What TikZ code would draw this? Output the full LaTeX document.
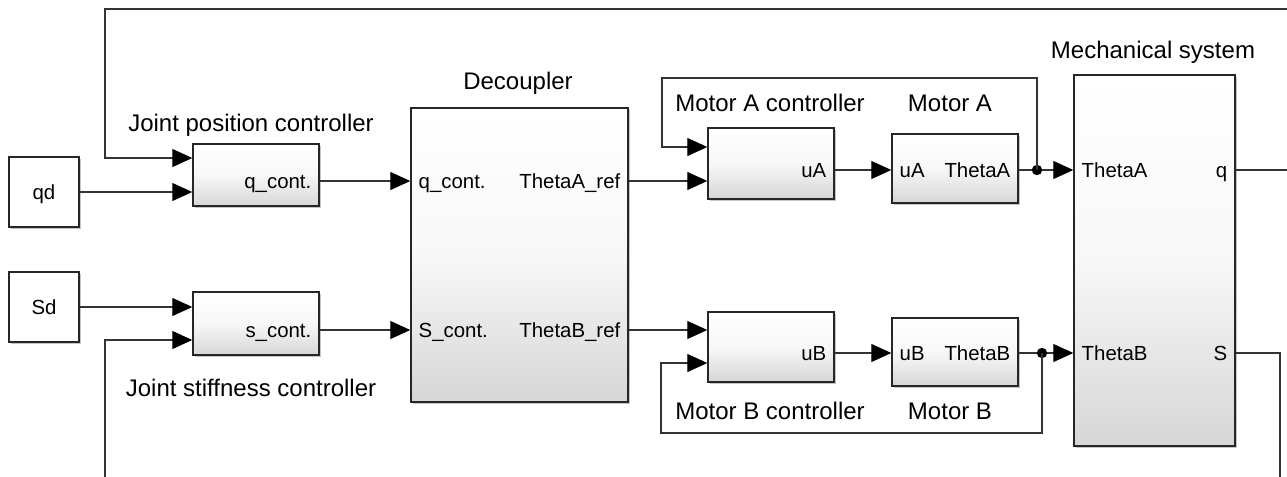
\documentclass[tikz,border=0pt]{standalone}
\usepackage{fontspec}
\setmainfont{Liberation Sans}
\usetikzlibrary{arrows.meta,shadows}

\begin{document}
\begin{tikzpicture}[x=0.5pt,y=-0.5pt,
  wire/.style={draw=black!80,line width=.55pt,
    -{Triangle[length=10pt,width=9pt,color=black]}},
  line/.style={draw=black!80,line width=.55pt},
  block/.style={draw=black!85,line width=.7pt,top color=white,bottom color=black!16,
    middle color=black!3,inner sep=0pt,
    drop shadow={shadow xshift=.8pt,shadow yshift=-.8pt,fill=black!45,opacity=.5}},
  source/.style={draw=black!85,line width=.7pt,fill=white,inner sep=0pt,
    drop shadow={shadow xshift=.8pt,shadow yshift=-.8pt,fill=black!45,opacity=.5}},
  port/.style={font=\fontsize{10.2}{12}\selectfont,inner sep=4pt,
    text height=7.3pt,text depth=0pt},
  title/.style={font=\fontsize{12}{14}\selectfont}]

\useasboundingbox (0,0) rectangle (1287,477);
\clip (0,0) rectangle (1287,477);

% Sources and joint controllers.
\node[source,minimum width=35pt,minimum height=35pt] (qd) at (44,192) {};
\node[port] at (qd) {qd};
\node[source,minimum width=35pt,minimum height=35pt] (sd) at (44,307) {};
\node[port] at (sd) {Sd};

\node[block,minimum width=63pt,minimum height=31pt] (qc) at (256,175) {};
\node[title] at (251,125) {Joint position controller};
\node[block,minimum width=63pt,minimum height=31.5pt] (sc) at (256,323.5) {};
\node[title] at (251,388) {Joint stiffness controller};

% Decoupler and mechanical system.
\node[block,minimum width=108.5pt,minimum height=147pt] (dec) at (519.5,255) {};
\node[title] at (518,83) {Decoupler};
\node[block,minimum width=80.5pt,minimum height=185.5pt] (mech) at (1154.5,260.5) {};
\node[title] at (1153,52) {Mechanical system};

% Motor controllers and motors.
\node[block,minimum width=63pt,minimum height=35.5pt] (mac) at (771,163.5) {};
\node[title] at (770,103) {Motor A controller};
\node[block,minimum width=63pt,minimum height=34.5pt] (ma) at (955,168.5) {};
\node[title] at (950,103) {Motor A};
\node[block,minimum width=63pt,minimum height=35pt] (mbc) at (771,347) {};
\node[title] at (770,411) {Motor B controller};
\node[block,minimum width=63pt,minimum height=34pt] (mb) at (955,352) {};
\node[title] at (950,411) {Motor B};

% Ports.
\coordinate (qc-a) at (qc.west |- 0,158);
\coordinate (qc-b) at (qc.west |- 0,192);
\coordinate (qc-o) at (qc.east |- 0,181);
\coordinate (sc-a) at (sc.west |- 0,307);
\coordinate (sc-b) at (sc.west |- 0,340);
\coordinate (sc-o) at (sc.east |- 0,330);
\coordinate (dec-a) at (dec.west |- 0,181);
\coordinate (dec-b) at (dec.west |- 0,330);
\coordinate (dec-oa) at (dec.east |- 0,181);
\coordinate (dec-ob) at (dec.east |- 0,330);
\coordinate (mac-a) at (mac.west |- 0,147);
\coordinate (mac-b) at (mac.west |- 0,181);
\coordinate (mac-o) at (mac.east |- 0,170);
\coordinate (ma-i) at (ma.west |- 0,170);
\coordinate (ma-o) at (ma.east |- 0,170);
\coordinate (mbc-a) at (mbc.west |- 0,330);
\coordinate (mbc-b) at (mbc.west |- 0,363);
\coordinate (mbc-o) at (mbc.east |- 0,353);
\coordinate (mb-i) at (mb.west |- 0,353);
\coordinate (mb-o) at (mb.east |- 0,353);
\coordinate (mech-a) at (mech.west |- 0,170);
\coordinate (mech-b) at (mech.west |- 0,353);
\coordinate (mech-q) at (mech.east |- 0,170);
\coordinate (mech-s) at (mech.east |- 0,353);
\coordinate (ja) at (1037,170);
\coordinate (jb) at (1042,353);

\node[port,anchor=east] at (qc-o) {q\_cont.};
\node[port,anchor=east] at (sc-o) {s\_cont.};
\node[port,anchor=west] at (dec-a) {q\_cont.};
\node[port,anchor=west] at (dec-b) {S\_cont.};
\node[port,anchor=east] at (dec-oa) {ThetaA\_ref};
\node[port,anchor=east] at (dec-ob) {ThetaB\_ref};
\node[port,anchor=east] at (mac-o) {uA};
\node[port,anchor=west] at (ma-i) {uA};
\node[port,anchor=east] at (ma-o) {ThetaA};
\node[port,anchor=east] at (mbc-o) {uB};
\node[port,anchor=west] at (mb-i) {uB};
\node[port,anchor=east] at (mb-o) {ThetaB};
\node[port,anchor=west] at (mech-a) {ThetaA};
\node[port,anchor=west] at (mech-b) {ThetaB};
\node[port,anchor=east] at (mech-q) {q};
\node[port,anchor=east] at (mech-s) {S};

% Signal lines.
\draw[wire] (qd.east) -- (qc-b);
\draw[wire] (sd.east) -- (sc-a);
\draw[wire] (qc-o) -- (dec-a);
\draw[wire] (sc-o) -- (dec-b);
\draw[wire] (dec-oa) -- (mac-b);
\draw[wire] (dec-ob) -- (mbc-a);
\draw[wire] (mac-o) -- (ma-i);
\draw[wire] (mbc-o) -- (mb-i);
\draw[wire] (ma-o) -- (mech-a);
\draw[wire] (mb-o) -- (mech-b);
\fill[black] (ja) circle (2.6pt);
\fill[black] (jb) circle (2.6pt);
\draw[wire] (ja) |- (662,78) |- (mac-a);
\draw[wire] (jb) |- (661,433) |- (mbc-b);
\draw[wire] (mech-q) -- (1300,170) |- (105,9) |- (qc-a);
\draw[wire] (mech-s) -| (1280,500) -- (105,500) |- (sc-b);
\end{tikzpicture}
\end{document}
